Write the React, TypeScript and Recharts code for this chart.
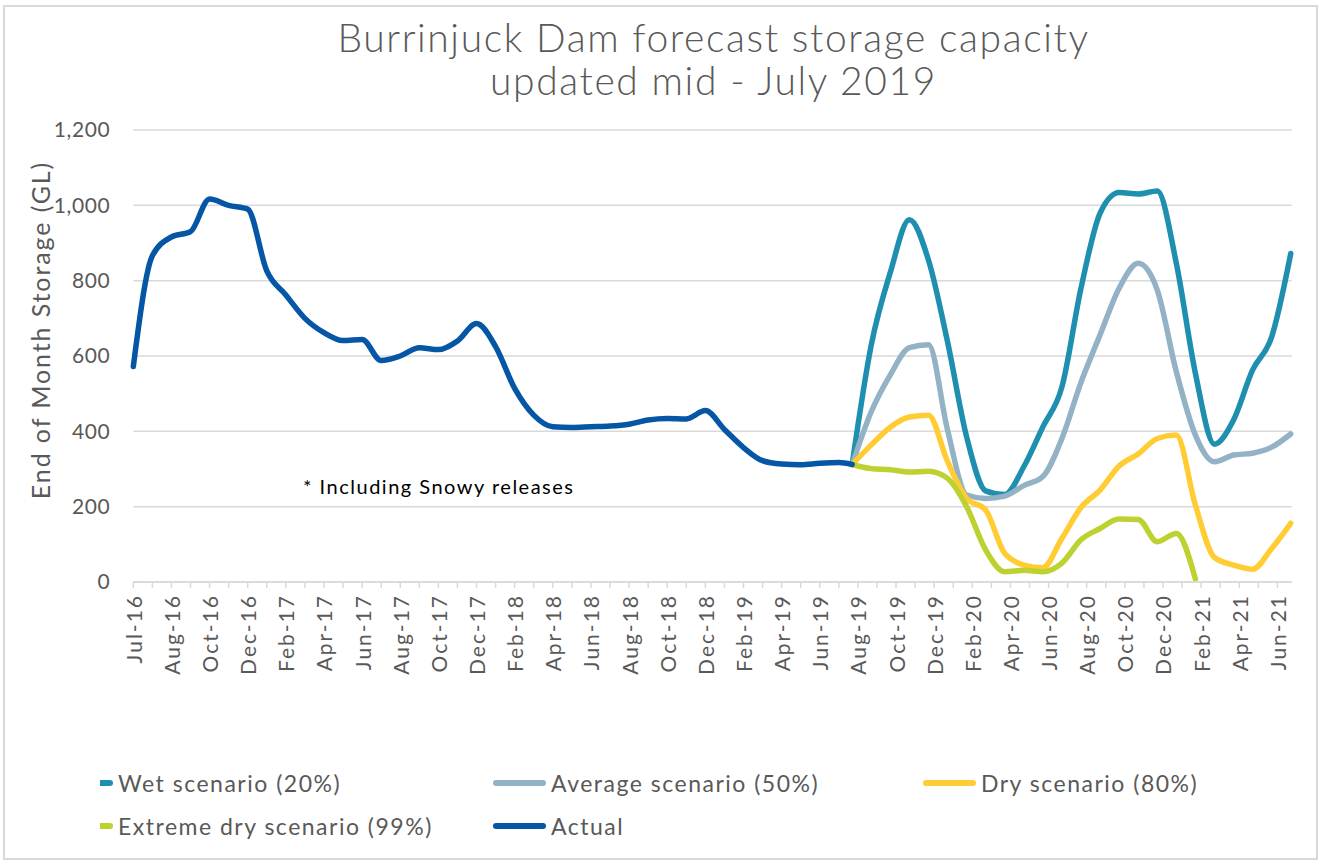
import React from "react";
import { LineChart, Line, XAxis, YAxis, CartesianGrid } from "recharts";

// ---------- data ----------
const tickLabels = [
  "Jul-16", "Aug-16", "Oct-16", "Dec-16", "Feb-17", "Apr-17", "Jun-17", "Aug-17",
  "Oct-17", "Dec-17", "Feb-18", "Apr-18", "Jun-18", "Aug-18", "Oct-18", "Dec-18",
  "Feb-19", "Apr-19", "Jun-19", "Aug-19", "Oct-19", "Dec-19", "Feb-20", "Apr-20",
  "Jun-20", "Aug-20", "Oct-20", "Dec-20", "Feb-21", "Apr-21", "Jun-21",
];

// month positions of the actual record (0 = first tick)
const actualX = [
  0, 1, 2, 3, 4, 5, 6, 7, 8, 9, 10, 11, 12, 13, 14, 15, 16, 17, 18, 19,
  20, 21, 22, 23, 24, 25, 26, 27, 28, 29, 30, 31, 32, 33, 34, 35, 36, 37, 37.7,
];
const actualValues = [
  572, 866, 916, 930, 1017, 1000, 990, 826, 762, 700, 662, 641, 644, 588, 600, 622,
  617, 640, 686, 625, 514, 443, 412, 410, 412, 414, 419, 430, 434, 433, 455, 405,
  357, 322, 313, 311, 315, 317, 312,
];

// month positions of the forecasts
const forecastX = [
  37.7, 38.7, 39.7, 40.7, 41.7, 42.7, 43.7, 44.7, 45.7, 46.7, 47.7, 48.7,
  49.7, 50.7, 51.7, 52.7, 53.7, 54.7, 55.7, 56.7, 57.7, 58.7, 59.7, 60.7,
];
const wetValues = [
  312, 629, 822, 962, 855, 638, 386, 242, 232, 306, 412, 518,
  780, 979, 1034, 1030, 1038, 846, 554, 366, 430, 563, 651, 872,
];
const averageValues = [
  312, 452, 550, 622, 630, 404, 231, 222, 228, 256, 280, 381,
  530, 656, 780, 846, 775, 558, 390, 319, 337, 342, 358, 393,
];
const dryValues = [
  312, 364, 411, 438, 443, 320, 222, 191, 76, 45, 38, 116,
  198, 244, 308, 340, 381, 390, 204, 65, 45, 34, 89, 156,
];
const extremeValues = [
  312, 301, 298, 292, 294, 275, 200, 85, 27, 31, 27, 50,
  112, 142, 167, 166, 107, 129, 8,
];

const yTicks = [0, 200, 400, 600, 800, 1000, 1200];

const seriesNames = [
  "Wet scenario (20%)",
  "Average scenario (50%)",
  "Dry scenario (80%)",
  "Extreme dry scenario (99%)",
  "Actual",
];
const seriesColors = ["#1F8FB0", "#93B2C5", "#FFCD33", "#BDD230", "#0656A6"];

// ---------- helpers ----------
const toRows = (xs: number[], vs: number[]) => vs.map((v, i) => ({ x: xs[i], v }));
const seriesData = [
  toRows(forecastX, wetValues),
  toRows(forecastX, averageValues),
  toRows(forecastX, dryValues),
  toRows(forecastX, extremeValues),
  toRows(actualX, actualValues),
];
const monthTicks = Array.from({ length: 61 }, (_, i) => i);

const FONT = "Lato, 'Open Sans', sans-serif";
const TEXT = "#595959";

const XTick = (props: any) => {
  const { x, y, payload } = props;
  const i = payload.value;
  if (i % 2 !== 0) return <g />;
  return (
    <text
      x={x}
      y={y}
      transform={`rotate(-90, ${x}, ${y})`}
      textAnchor="end"
      dominantBaseline="central"
      fill={TEXT}
      fontSize={21}
      letterSpacing={2}
      fontFamily={FONT}
    >
      {tickLabels[i / 2]}
    </text>
  );
};

const legendPos = [
  { left: 118, top: 783 },
  { left: 551, top: 783 },
  { left: 981, top: 783 },
  { left: 118, top: 826 },
  { left: 551, top: 826 },
];

export default function App() {
  return (
    <div
      style={{
        position: "absolute",
        left: 0,
        top: 0,
        width: 1325,
        height: 862,
        background: "#fff",
        fontFamily: FONT,
        overflow: "hidden",
      }}
    >
      {/* chart border */}
      <div
        style={{
          position: "absolute",
          left: 3,
          top: 5,
          width: 1311,
          height: 851,
          border: "2px solid #D9D9D9",
        }}
      />
      {/* title */}
      <div
        style={{
          position: "absolute",
          left: 0,
          top: 16,
          width: 1427,
          textAlign: "center",
          fontSize: 39,
          letterSpacing: 1.6,
          lineHeight: "43px",
          color: TEXT,
          fontWeight: 300,
        }}
      >
        Burrinjuck Dam forecast storage capacity
        <br />
        updated mid - July 2019
      </div>
      {/* y axis title */}
      <div
        style={{
          position: "absolute",
          left: 40,
          top: 330,
          transform: "translate(-50%, -50%) rotate(-90deg)",
          whiteSpace: "nowrap",
          fontSize: 25,
          letterSpacing: 1.9,
          color: TEXT,
        }}
      >
        End of Month Storage (GL)
      </div>

      <div style={{ position: "absolute", left: 0, top: 0 }}>
        <LineChart
          width={1325}
          height={862}
          margin={{ top: 130, right: 33.3, bottom: 180, left: 73.3 }}
        >
          <CartesianGrid
            vertical={false}
            stroke="#D9D9D9"
            strokeWidth={1.5}
          />
          <XAxis
            type="number"
            dataKey="x"
            domain={[0, 60.75]}
            ticks={monthTicks}
            interval={0}
            tick={<XTick />}
            tickSize={6}
            tickMargin={6}
            height={100}
            stroke="#D9D9D9"
            strokeWidth={1.5}
            allowDecimals
          />
          <YAxis
            type="number"
            domain={[0, 1200]}
            ticks={yTicks}
            width={60}
            axisLine={false}
            tickLine={false}
            tickSize={0}
            tickMargin={23}
            tickFormatter={(v: number) => v.toLocaleString("en-US")}
            tick={{ fill: TEXT, fontSize: 21, fontFamily: FONT, letterSpacing: 0.6 }}
          />
          {seriesData.map((d, i) => (
            <Line
              key={seriesNames[i]}
              data={d}
              dataKey="v"
              name={seriesNames[i]}
              type="monotone"
              stroke={seriesColors[i]}
              strokeWidth={5.5}
              strokeLinecap="round"
              dot={false}
              activeDot={false}
              isAnimationActive={false}
            />
          ))}
        </LineChart>
      </div>

      {/* annotation */}
      <div
        style={{
          position: "absolute",
          left: 303,
          top: 473,
          fontSize: 20,
          letterSpacing: 1.5,
          lineHeight: "26px",
          color: "#000",
          whiteSpace: "nowrap",
        }}
      >
        * Including Snowy releases
      </div>

      {/* legend */}
      <div
        style={{
          position: "absolute",
          left: 100,
          top: 0,
          width: 1200,
          height: 862,
          overflow: "hidden",
        }}
      >
        {seriesNames.map((n, i) => (
          <div
            key={n}
            style={{
              position: "absolute",
              left: legendPos[i].left - 100,
              top: legendPos[i].top - 15,
              height: 30,
              display: "flex",
              alignItems: "center",
              whiteSpace: "nowrap",
            }}
          >
            <div
              style={{
                position: "absolute",
                left: -58,
                top: 12,
                width: 53,
                height: 6,
                borderRadius: 3,
                background: seriesColors[i],
              }}
            />
            <span style={{ fontSize: 23, letterSpacing: 1.5, color: TEXT }}>{n}</span>
          </div>
        ))}
      </div>
    </div>
  );
}
